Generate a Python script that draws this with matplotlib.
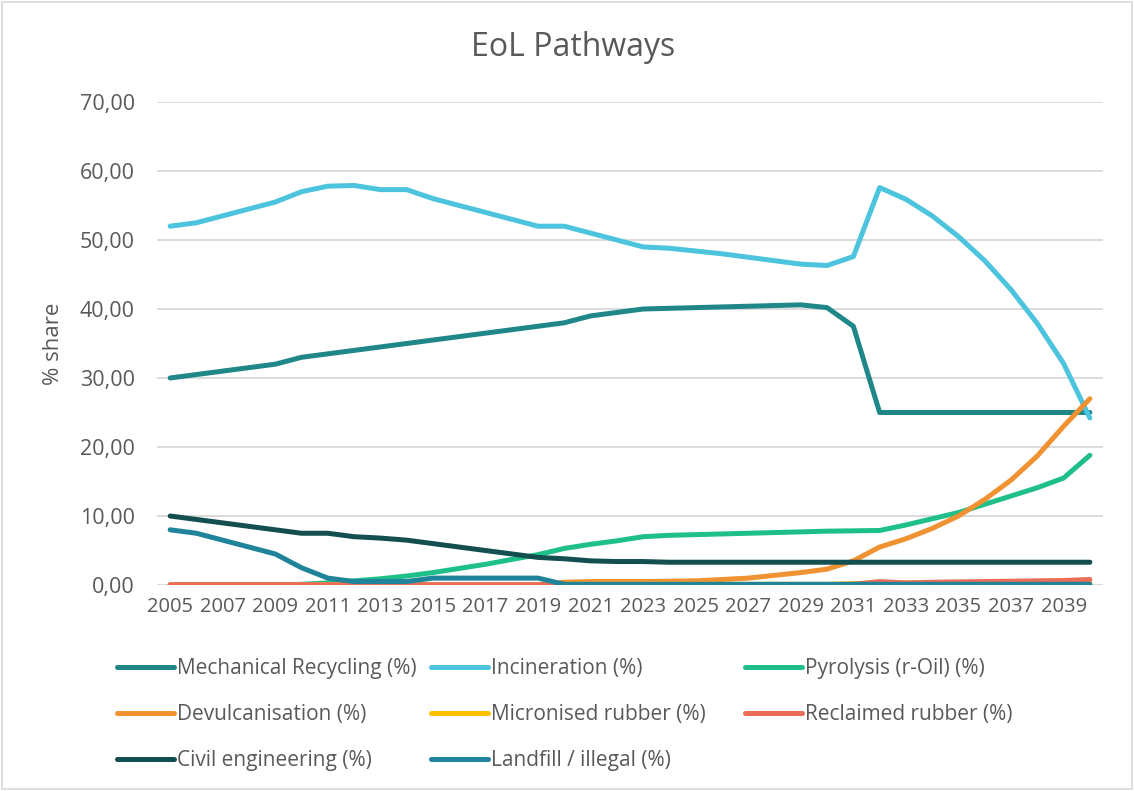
import numpy as np
import matplotlib
matplotlib.use('Agg')
import matplotlib.pyplot as plt
from matplotlib.patches import Rectangle
from matplotlib.lines import Line2D

plt.rcParams['font.family'] = ['Open Sans', 'DejaVu Sans']

# Data
years = list(range(2005, 2041))

mechanical = [30.0, 30.5, 31.0, 31.5, 32.0, 33.0, 33.5, 34.0, 34.5, 35.0,
              35.5, 36.0, 36.5, 37.0, 37.5, 38.0, 39.0, 39.5, 40.0, 40.1,
              40.2, 40.3, 40.4, 40.5, 40.6, 40.2, 37.5, 25.0, 25.0, 25.0,
              25.0, 25.0, 25.0, 25.0, 25.0, 25.0]
incineration = [52.0, 52.5, 53.5, 54.5, 55.5, 57.0, 57.8, 57.9, 57.3, 57.3,
                56.0, 55.0, 54.0, 53.0, 52.0, 52.0, 51.0, 50.0, 49.0, 48.8,
                48.4, 48.0, 47.5, 47.0, 46.5, 46.3, 47.6, 57.6, 55.9, 53.5,
                50.5, 47.0, 42.8, 37.9, 32.1, 24.2]
pyrolysis = [0.0, 0.0, 0.0, 0.0, 0.0, 0.1, 0.3, 0.6, 0.9, 1.3,
             1.8, 2.4, 3.0, 3.7, 4.4, 5.3, 5.9, 6.4, 7.0, 7.2,
             7.3, 7.4, 7.5, 7.6, 7.7, 7.8, 7.85, 7.9, 8.7, 9.6,
             10.5, 11.7, 12.9, 14.1, 15.5, 18.8]
devulcanisation = [0.0, 0.0, 0.0, 0.0, 0.0, 0.0, 0.0, 0.0, 0.0, 0.0,
                   0.0, 0.0, 0.0, 0.0, 0.0, 0.4, 0.5, 0.5, 0.5, 0.55,
                   0.6, 0.8, 1.0, 1.4, 1.8, 2.3, 3.5, 5.5, 6.7, 8.2,
                   10.0, 12.4, 15.2, 18.7, 23.0, 27.0]
micronised = [0.0, 0.0, 0.0, 0.0, 0.0, 0.0, 0.0, 0.0, 0.0, 0.0,
              0.0, 0.0, 0.0, 0.0, 0.0, 0.1, 0.1, 0.1, 0.1, 0.1,
              0.1, 0.1, 0.1, 0.1, 0.1, 0.1, 0.2, 0.3, 0.3, 0.3,
              0.3, 0.3, 0.3, 0.3, 0.3, 0.3]
reclaimed = [0.05, 0.05, 0.05, 0.05, 0.05, 0.05, 0.05, 0.05, 0.05, 0.05,
             0.05, 0.05, 0.05, 0.05, 0.05, 0.05, 0.05, 0.05, 0.05, 0.05,
             0.05, 0.05, 0.05, 0.05, 0.05, 0.05, 0.1, 0.5, 0.3, 0.4,
             0.45, 0.5, 0.55, 0.6, 0.65, 0.8]
civil = [10.0, 9.5, 9.0, 8.5, 8.0, 7.5, 7.5, 7.0, 6.8, 6.5,
         6.0, 5.5, 5.0, 4.5, 4.0, 3.8, 3.5, 3.4, 3.4, 3.3,
         3.3, 3.3, 3.3, 3.3, 3.3, 3.3, 3.3, 3.3, 3.3, 3.3,
         3.3, 3.3, 3.3, 3.3, 3.3, 3.3]
landfill = [8.0, 7.5, 6.5, 5.5, 4.5, 2.5, 1.0, 0.5, 0.5, 0.5,
            1.0, 1.0, 1.0, 1.0, 1.0, 0.1, 0.1, 0.1, 0.1, 0.1,
            0.1, 0.1, 0.1, 0.1, 0.1, 0.1, 0.1, 0.1, 0.1, 0.1,
            0.1, 0.1, 0.1, 0.1, 0.1, 0.1]

labels = ['Mechanical Recycling (%)', 'Incineration (%)', 'Pyrolysis (r-Oil) (%)',
          'Devulcanisation (%)', 'Micronised rubber (%)', 'Reclaimed rubber (%)',
          'Civil engineering (%)', 'Landfill / illegal (%)']
series = [mechanical, incineration, pyrolysis, devulcanisation,
          micronised, reclaimed, civil, landfill]
colors = ['#1F8787', '#4CC4DE', '#1EBF89', '#F09132',
          '#FFC000', '#E96D57', '#134E50', '#1F839A']

text_col = '#595959'
grid_col = '#D9D9D9'

fig = plt.figure(figsize=(11.34, 7.91), dpi=100)
ax = fig.add_axes([157 / 1134, 1 - 585 / 791, 946 / 1134, 483 / 791])

for vals, lab, c in zip(series, labels, colors):
    ax.plot(years, vals, color=c, lw=3.6, label=lab,
            solid_capstyle='round', solid_joinstyle='round')

ax.set_xlim(2004.5, 2040.5)
ax.set_ylim(0, 70)
ax.set_yticks(np.arange(0, 71, 10))
ax.set_yticklabels([f'{v:.2f}'.replace('.', ',') for v in np.arange(0, 71, 10)])
ax.set_xticks(years[::2])
ax.set_xticklabels([str(y) for y in years[::2]])
ax.tick_params(axis='both', length=0, colors=text_col)
ax.tick_params(axis='y', pad=16, labelsize=15.5)
ax.tick_params(axis='x', pad=9, labelsize=14.5)
ax.grid(axis='y', color=grid_col, lw=1.3)
ax.set_axisbelow(True)
for s in ax.spines.values():
    s.set_visible(False)

ax.set_ylabel('% share', fontsize=16, color=text_col, labelpad=11)
fig.text(573 / 1134, 1 - 48 / 791, 'EoL Pathways', ha='center', va='center',
         fontsize=23, color=text_col)

# legend: three columns placed like Excel's evenly spaced grid
cols = [[0, 3, 6], [1, 4, 7], [2, 5]]
col_x = [109, 423, 737]
for xi, idx in zip(col_x, cols):
    handles = [Line2D([], [], color=colors[i], lw=3.6, solid_capstyle='round') for i in idx]
    leg = fig.legend(handles, [labels[i] for i in idx], loc='upper left',
                     bbox_to_anchor=(xi / 1134, 1 - 650 / 791), frameon=False,
                     fontsize=15, handlelength=2.7, handletextpad=0.15,
                     labelspacing=1.2, borderaxespad=0)
    for t in leg.get_texts():
        t.set_color(text_col)

fig.patches.append(Rectangle((0.002, 0.002), 0.996, 0.996, transform=fig.transFigure,
                             fill=False, edgecolor=grid_col, lw=1.2))

fig.savefig('out.png', dpi=100)
